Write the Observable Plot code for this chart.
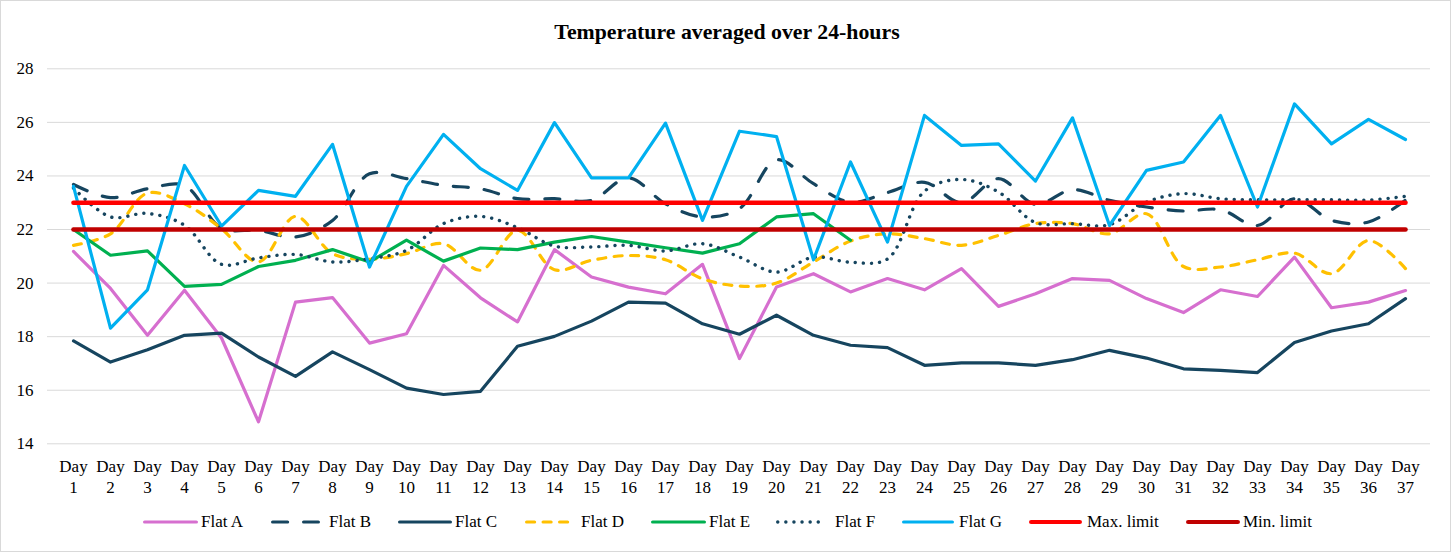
<!DOCTYPE html>
<html><head><meta charset="utf-8">
<script src="https://cdn.jsdelivr.net/npm/d3@7"></script>
<script src="https://cdn.jsdelivr.net/npm/@observablehq/plot@0.6"></script>
<style>
body{margin:0;background:#fff;font-family:"Liberation Serif","Times New Roman",serif;}
#frame{position:absolute;left:0;top:0;width:1451px;height:552px;border:1px solid #d9d9d9;box-sizing:border-box;}
#title{position:absolute;left:0;width:1454px;top:19px;text-align:center;font-weight:bold;font-size:21.8px;line-height:26px;color:#000;}
#chart{position:absolute;left:0;top:0;}
.leg{position:absolute;top:511px;height:22px;font-size:17px;line-height:22px;white-space:nowrap;color:#000;}
.sw{position:absolute;top:511px;height:22px;}
</style></head>
<body>
<div id="frame"></div>
<div id="chart"></div>
<div id="title">Temperature averaged over 24-hours</div>
<div id="legend"></div>
<script>
const days = ["Day 1","Day 2","Day 3","Day 4","Day 5","Day 6","Day 7","Day 8","Day 9","Day 10","Day 11","Day 12","Day 13","Day 14","Day 15","Day 16","Day 17","Day 18","Day 19","Day 20","Day 21","Day 22","Day 23","Day 24","Day 25","Day 26","Day 27","Day 28","Day 29","Day 30","Day 31","Day 32","Day 33","Day 34","Day 35","Day 36","Day 37"];
const yTicks = [14, 16, 18, 20, 22, 24, 26, 28];

const flatA = [21.18,19.8,18.05,19.73,17.95,14.82,19.29,19.46,17.76,18.11,20.66,19.45,18.55,21.25,20.23,19.85,19.6,20.7,17.18,19.85,20.35,19.67,20.17,19.75,20.54,19.13,19.6,20.17,20.1,19.42,18.9,19.75,19.5,20.97,19.08,19.29,19.72];
const flatB = [23.68,23.19,23.52,23.64,22.05,21.97,21.72,22.34,24.08,23.9,23.65,23.52,23.15,23.15,23.09,23.93,22.96,22.47,22.78,24.6,23.71,23.02,23.38,23.76,23.0,23.9,22.94,23.49,23.09,22.84,22.69,22.74,22.15,23.15,22.34,22.28,23.1];
const flatC = [17.84,17.05,17.51,18.05,18.13,17.24,16.52,17.43,16.77,16.08,15.84,15.96,17.64,18.01,18.58,19.29,19.25,18.48,18.09,18.8,18.05,17.68,17.59,16.93,17.02,17.02,16.93,17.14,17.49,17.2,16.8,16.74,16.66,17.78,18.21,18.48,19.42];
const flatD = [21.41,21.84,23.36,22.96,22.03,20.79,22.49,21.1,20.89,21.1,21.47,20.48,21.97,20.5,20.85,21.03,20.87,20.16,19.89,20.0,20.79,21.57,21.84,21.66,21.41,21.78,22.22,22.22,21.84,22.59,20.62,20.6,20.87,21.12,20.35,21.59,20.54];
const flatE = [22.0,21.04,21.2,19.88,19.95,20.62,20.85,21.25,20.79,21.6,20.82,21.31,21.25,21.53,21.74,21.53,21.32,21.12,21.47,22.47,22.59,21.6];
const flatF = [23.55,22.47,22.6,22.16,20.7,20.94,21.07,20.79,20.91,21.22,22.22,22.49,22.07,21.38,21.35,21.41,21.2,21.47,20.97,20.41,20.97,20.78,20.9,23.43,23.87,23.4,22.26,22.22,22.18,23.02,23.34,23.15,23.11,23.11,23.11,23.1,23.24];
const flatG = [23.61,18.32,19.75,24.39,22.13,23.46,23.24,25.18,20.6,23.61,25.55,24.27,23.46,25.99,23.93,23.93,25.97,22.34,25.67,25.47,20.87,24.52,21.53,26.26,25.14,25.2,23.81,26.17,22.15,24.21,24.52,26.26,22.84,26.69,25.2,26.11,25.36];
const maxLimit = [23,23,23,23,23,23,23,23,23,23,23,23,23,23,23,23,23,23,23,23,23,23,23,23,23,23,23,23,23,23,23,23,23,23,23,23,23];
const minLimit = [22,22,22,22,22,22,22,22,22,22,22,22,22,22,22,22,22,22,22,22,22,22,22,22,22,22,22,22,22,22,22,22,22,22,22,22,22];

const seriesNames = ["Flat A","Flat B","Flat C","Flat D","Flat E","Flat F","Flat G","Max. limit","Min. limit"];
const seriesValues = [flatA, flatB, flatC, flatD, flatE, flatF, flatG, maxLimit, minLimit];

// styles (kept separate from data)
const styles = [
  {color:"#D66FCF", width:3.2, dash:null, curve:"linear"},
  {color:"#16455F", width:3.2, dash:"15,16", curve:"catmull-rom"},
  {color:"#16455F", width:3.2, dash:null, curve:"linear"},
  {color:"#FFC000", width:3.2, dash:"8,8.5", curve:"catmull-rom"},
  {color:"#00B050", width:3.2, dash:null, curve:"linear"},
  {color:"#16455F", width:3.4, dash:"0.1,8", curve:"catmull-rom"},
  {color:"#00B0F0", width:3.2, dash:null, curve:"linear"},
  {color:"#FF0000", width:4.6, dash:null, curve:"linear"},
  {color:"#C00000", width:4.6, dash:null, curve:"linear"}
];
const legendPos = [[143,198,201],[271,320,329],[398,452,455],[525,572,581],[651,706,709],[776,824,835],[902,954,959],[1029,1082,1087],[1186,1240,1243]];

const rows = (vals) => vals.map((v, i) => ({day: days[i], value: v}));

const lineMarks = seriesValues.map((vals, k) => Plot.line(rows(vals), {
  x: "day", y: "value",
  stroke: styles[k].color, strokeWidth: styles[k].width,
  strokeDasharray: styles[k].dash || undefined,
  strokeLinecap: "round", strokeLinejoin: "round",
  curve: styles[k].curve
}));

const chart = Plot.plot({
  width: 1454, height: 500,
  marginTop: 68.3, marginBottom: 56.7, marginLeft: 47, marginRight: 24,
  x: {type: "point", domain: days, padding: 0.5},
  y: {domain: [14, 28]},
  style: {fontFamily: "Liberation Serif, Times New Roman, serif", fontSize: "17px", color: "#000", background: "transparent", overflow: "visible"},
  marks: [
    Plot.gridY(yTicks, {stroke: "#d9d9d9", strokeOpacity: 1, strokeWidth: 1}),
    Plot.axisY(yTicks, {tickSize: 0, tickPadding: 14, fontSize: 17, label: null}),
    Plot.axisX({tickSize: 0, tickPadding: 14, fontSize: 17, label: null, lineHeight: 1.2, tickFormat: d => d.replace(" ", "\n")}),
    ...lineMarks
  ]
});
document.getElementById("chart").appendChild(chart);

// legend
const legend = document.getElementById("legend");
seriesNames.forEach((name, k) => {
  const [x0, x1, tx] = legendPos[k];
  const s = styles[k];
  const w = x1 - x0;
  const sw = document.createElement("div");
  sw.className = "sw";
  sw.style.left = x0 + "px";
  sw.style.width = w + "px";
  const lw = Math.min(s.width, 4.2);
  sw.innerHTML = `<svg width="${w}" height="22"><line x1="${lw/2}" x2="${w - lw/2}" y1="11" y2="11" stroke="${s.color}" stroke-width="${lw}" stroke-linecap="round" ${s.dash ? `stroke-dasharray="${s.dash}"` : ""}/></svg>`;
  legend.appendChild(sw);
  const t = document.createElement("div");
  t.className = "leg";
  t.style.left = tx + "px";
  t.textContent = name;
  legend.appendChild(t);
});
</script>
</body></html>
